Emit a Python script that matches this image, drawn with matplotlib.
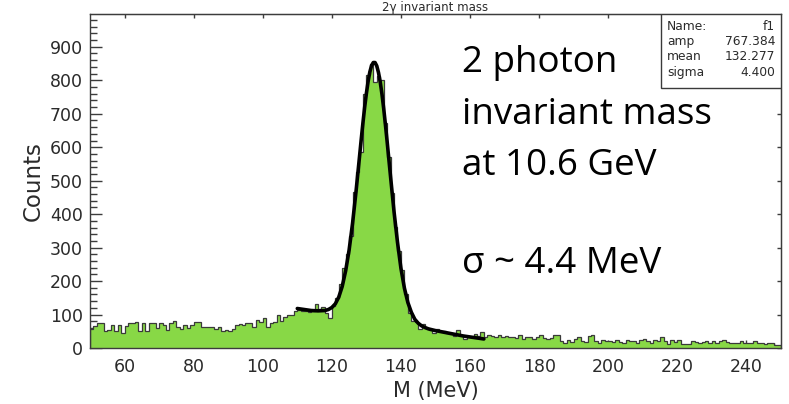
import matplotlib
matplotlib.use('Agg')
import matplotlib.pyplot as plt
from matplotlib.patches import Rectangle
from matplotlib.ticker import MultipleLocator
import numpy as np

# histogram: 1 MeV bins starting at 50 MeV
bin_lo = 50
bin_width = 1
counts = [
    58, 66, 76, 76, 52, 54, 68, 52, 70, 46,          # 50-59
    66, 74, 76, 78, 50, 74, 52, 74, 74, 60,          # 60-69
    76, 70, 54, 76, 80, 62, 58, 68, 60, 70,          # 70-79
    78, 78, 62, 62, 63, 62, 58, 62, 52, 55,          # 80-89
    50, 56, 70, 72, 68, 76, 74, 62, 84, 78,          # 90-99
    90, 62, 76, 78, 100, 82, 94, 99, 100, 112,       # 100-109
    114, 112, 110, 108, 110, 130, 118, 122, 106, 90,  # 110-119
    125, 150, 190, 238, 282, 335, 465, 525, 585, 760,  # 120-129
    815, 848, 795, 812, 800, 672, 572, 462, 362, 290,  # 130-139
    232, 160, 104, 82, 78, 58, 72, 60, 55, 44,        # 140-149
    58, 52, 50, 46, 45, 36, 54, 40, 26, 34,          # 150-159
    32, 43, 36, 48, 32, 38, 36, 32, 38, 34,          # 160-169
    36, 32, 34, 30, 38, 28, 34, 34, 28, 32,          # 170-179
    40, 30, 28, 30, 40, 38, 20, 14, 24, 18,          # 180-189
    28, 32, 22, 18, 36, 38, 22, 16, 24, 20,          # 190-199
    22, 18, 24, 18, 16, 24, 20, 22, 16, 24,          # 200-209
    28, 22, 14, 24, 22, 34, 22, 12, 24, 18,          # 210-219
    24, 12, 12, 12, 20, 18, 16, 18, 22, 14,          # 220-229
    20, 16, 22, 24, 18, 14, 14, 14, 20, 14,          # 230-239
    14, 16, 20, 16, 14, 12, 14, 14, 8, 10,           # 240-249
]

# fit curve (gaussian + background)
fit_x = [110, 112, 114, 116, 118, 119, 120, 121, 122, 123, 124, 125, 126, 127,
         128, 128.5, 129, 129.5, 130, 130.5, 131, 131.5, 132, 132.5, 133, 133.5,
         134, 134.5, 135, 135.5, 136, 136.5, 137, 138, 139, 140, 141, 142, 143,
         144, 145, 146, 147, 148, 150, 152, 154, 156, 158, 160, 162, 164]
fit_y = [118, 115, 112, 111, 112, 115, 121, 132, 152, 184, 231, 293, 373, 468,
         571, 623, 673, 720, 761, 797, 825, 844, 853, 853, 843, 823,
         795, 759, 716, 668, 617, 564, 511, 407, 316, 238, 179, 136, 107,
         86, 74, 66, 61, 57, 52, 48, 44, 40, 36, 33, 30, 27]

stats_names = ['Name:', 'amp', 'mean', 'sigma']
stats_vals = ['f1', '767.384', '132.277', '4.400']

note_lines = ['2 photon', 'invariant mass', 'at 10.6 GeV', 'σ ~ 4.4 MeV']
note_base_px = [72, 123.5, 175, 273]

W, H = 789, 404
fig = plt.figure(figsize=(W / 100, H / 100), dpi=100)
ax = fig.add_axes([90 / W, (H - 348) / H, 691 / W, 334 / H])

edges = bin_lo + bin_width * np.arange(len(counts) + 1)
ax.stairs(counts, edges, fill=True, color='#88d846', zorder=2)
ax.stairs(counts, edges, color='#3a3a3a', linewidth=0.9, zorder=3)
ax.plot(fit_x, fit_y, color='black', linewidth=2.6, solid_capstyle='round',
        solid_joinstyle='round', zorder=4)

ax.set_xlim(50, 250)
ax.set_ylim(0, 998)

axis_col = '#3c3c3c'
for sp in ax.spines.values():
    sp.set_color(axis_col)
    sp.set_linewidth(1.0)

ax.xaxis.set_major_locator(MultipleLocator(20))
ax.xaxis.set_minor_locator(MultipleLocator(4))
ax.yaxis.set_major_locator(MultipleLocator(100))
ax.yaxis.set_minor_locator(MultipleLocator(20))
ax.tick_params(axis='x', which='major', direction='in', length=5.8, width=1,
               color=axis_col, labelsize=12.5, labelcolor='#2a2a2a', pad=7)
ax.tick_params(axis='x', which='minor', direction='in', length=3.4, width=1, color=axis_col)
ax.tick_params(axis='y', which='major', direction='in', length=8.6, width=1,
               color=axis_col, labelsize=12.5, labelcolor='#2a2a2a', pad=5)
ax.tick_params(axis='y', which='minor', direction='in', length=4.8, width=1, color=axis_col)
ax.set_yticks(np.arange(0, 1000, 100))

# top / right: short major ticks only
top = ax.secondary_xaxis('top')
top.xaxis.set_major_locator(MultipleLocator(20))
top.tick_params(direction='in', length=3.2, width=1, color=axis_col, labeltop=False)
top.spines['top'].set_color(axis_col)
right = ax.secondary_yaxis('right')
right.yaxis.set_major_locator(MultipleLocator(100))
right.tick_params(direction='in', length=3.2, width=1, color=axis_col, labelright=False)
right.spines['right'].set_color(axis_col)

ax.set_xlabel('M (MeV)', fontsize=15, color='#2a2a2a', labelpad=4)
ax.set_ylabel('Counts', fontsize=16.5, color='#2a2a2a', labelpad=4)
ax.set_title('2γ invariant mass', fontsize=8.5, color='#2a2a2a', pad=2.5)

# stats box
bx0 = (661 - 90) / 691
by0 = (348 - 88) / 334
ax.add_patch(Rectangle((bx0, by0), 1 - bx0, 1 - by0, transform=ax.transAxes,
                       facecolor='white', edgecolor='#3a3a3a', linewidth=1.0, zorder=6))
for i, (nm, val) in enumerate(zip(stats_names, stats_vals)):
    yy = 1 - (26.5 + 15.2 * i) / H
    fig.text(667 / W, yy, nm, fontsize=8.8, color='#2a2a2a', va='center', ha='left', zorder=7)
    fig.text(775 / W, yy, val, fontsize=8.8, color='#2a2a2a', va='center', ha='right', zorder=7)

for txt, yb in zip(note_lines, note_base_px):
    fig.text(462 / W, 1 - yb / H, txt, fontsize=26.5, family=['Open Sans', 'DejaVu Sans'],
             color='black', va='baseline', ha='left')

fig.savefig('out.png', dpi=100)
